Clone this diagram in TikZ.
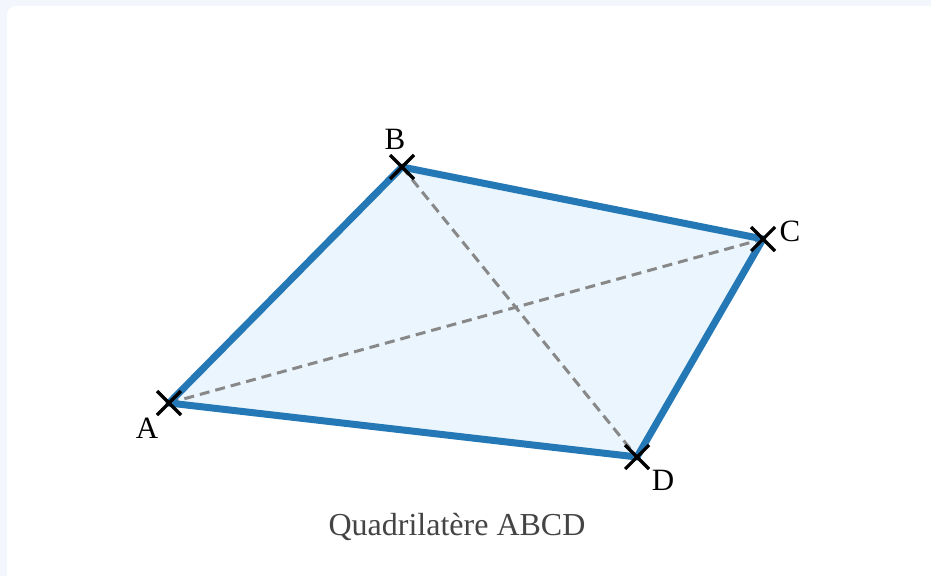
\documentclass[tikz,border=0pt]{standalone}
\usepackage{fontspec}
\setmainfont{Liberation Serif}
\usetikzlibrary{calc}
\definecolor{pagebg}{HTML}{F3F6FD}
\definecolor{quadblue}{HTML}{2478B5}
\definecolor{quadfill}{HTML}{EAF5FD}
\definecolor{diaggray}{HTML}{888888}
\definecolor{captiongray}{HTML}{444444}
\tikzset{
  side/.style={draw=quadblue, line width=7pt, line join=round},
  diag/.style={draw=diaggray, line width=3pt, dash pattern=on 10pt off 6pt},
  crossmark/.style={draw=black, line width=3.2pt},
  ptlabel/.style={font=\fontsize{31}{36}\selectfont, text=black, inner sep=0pt},
}
\begin{document}
\begin{tikzpicture}[x=1pt,y=-1pt]
\useasboundingbox (0,0) rectangle (931,576);
\fill[pagebg] (0,0) rectangle (931,576);
\fill[white, rounded corners=9pt] (7,6) rectangle (960,620);
\coordinate (A) at (169,403);
\coordinate (B) at (402,167);
\coordinate (C) at (763,239);
\coordinate (D) at (637,457);
\fill[quadfill] (A) -- (B) -- (C) -- (D) -- cycle;
\draw[diag] (A) -- (C);
\draw[diag] (B) -- (D);
\draw[side] (A) -- (B) -- (C) -- (D) -- cycle;
\foreach \p in {A,B,C,D}{
  \draw[crossmark] ($(\p)+(-12,-12)$) -- ($(\p)+(12,12)$);
  \draw[crossmark] ($(\p)+(-12,12)$) -- ($(\p)+(12,-12)$);
}
\node[ptlabel] (lA) at (147,428) {A};
\node[ptlabel] (lB) at (395,139) {B};
\node[ptlabel] (lC) at (790,231) {C};
\node[ptlabel] (lD) at (663,480) {D};
\node[font=\fontsize{32}{36}\selectfont, text=captiongray, inner sep=0pt] (cap) at (457,527) {Quadrilatère ABCD};
\end{tikzpicture}
\end{document}
